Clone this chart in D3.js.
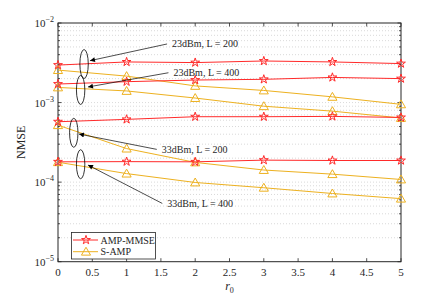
<!DOCTYPE html>
<html><head><meta charset="utf-8">
<script src="https://cdn.jsdelivr.net/npm/d3@7"></script>
<style>body{margin:0;background:#fff}</style>
</head><body><svg id="c" width="443" height="302" font-family="'Liberation Serif', 'Times New Roman', 'DejaVu Serif', serif"></svg>
<script>
const xValues = [0, 1, 2, 3, 4, 5];
const xTicks = [0, 0.5, 1, 1.5, 2, 2.5, 3, 3.5, 4, 4.5, 5];
const yTicks = [-5, -4, -3, -2];
const ampMmse23L200 = [2.96e-3, 3.24e-3, 3.18e-3, 3.33e-3, 3.24e-3, 3.09e-3];
const ampMmse23L400 = [1.71e-3, 1.83e-3, 1.92e-3, 1.96e-3, 2.07e-3, 2.0e-3];
const ampMmse33L200 = [5.74e-4, 6.15e-4, 6.64e-4, 6.64e-4, 6.7e-4, 6.5e-4];
const ampMmse33L400 = [1.80e-4, 1.81e-4, 1.80e-4, 1.89e-4, 1.87e-4, 1.87e-4];
const sAmp23L200 = [2.56e-3, 2.15e-3, 1.62e-3, 1.42e-3, 1.18e-3, 9.5e-4];
const sAmp23L400 = [1.55e-3, 1.40e-3, 1.14e-3, 9.0e-4, 7.8e-4, 6.4e-4];
const sAmp33L200 = [5.2e-4, 2.64e-4, 1.77e-4, 1.42e-4, 1.26e-4, 1.08e-4];
const sAmp33L400 = [1.78e-4, 1.28e-4, 9.9e-5, 8.5e-5, 7.2e-5, 6.2e-5];
const legendLabels = ["AMP-MMSE", "S-AMP"];
const annotations = [
  {label: "23dBm, L = 200", ex: 0.38, ey: 3.05e-3, sx: 1.59, sy: 5.45e-3, tx: 0.466, ty: 3.36e-3},
  {label: "23dBm, L = 400", ex: 0.33, ey: 1.44e-3, sx: 1.61, sy: 2.37e-3, tx: 0.437, ty: 1.57e-3},
  {label: "33dBm, L = 200", ex: 0.23, ey: 4.17e-4, sx: 1.44, sy: 2.58e-4, tx: 0.306, ty: 4.02e-4},
  {label: "33dBm, L = 400", ex: 0.33, ey: 1.68e-4, sx: 1.52, sy: 5.4e-5, tx: 0.437, ty: 1.64e-4}
];

const RED = "#ff2a2a", ORANGE = "#edb120";
const FONT = "'Liberation Serif', 'Times New Roman', 'DejaVu Serif', serif";
const svg = d3.select("#c");
const L = 58, R = 401, T = 23, B = 261.7;
const x = d3.scaleLinear().domain([0, 5]).range([L, R]);
const y = d3.scaleLog().domain([1e-5, 1e-2]).range([B, T]);

// grid
const grid = [];
for (let e = -5; e < -2; e++) for (let m = 1; m <= 9; m++) grid.push(m * Math.pow(10, e));
grid.push(1e-2);
svg.append("g").selectAll("line").data(grid.filter(v => v > 1e-5 && v < 1e-2)).join("line")
  .attr("x1", L).attr("x2", R).attr("y1", d => y(d)).attr("y2", d => y(d))
  .attr("stroke", "#c8c8c8").attr("stroke-width", 0.7).attr("stroke-dasharray", "1,2");

// axes box
svg.append("rect").attr("x", L).attr("y", T).attr("width", R - L).attr("height", B - T)
  .attr("fill", "none").attr("stroke", "#262626").attr("stroke-width", 1);

const ax = svg.append("g").attr("stroke", "#262626").attr("stroke-width", 0.8);
xTicks.forEach(t => {
  ax.append("line").attr("x1", x(t)).attr("x2", x(t)).attr("y1", B).attr("y2", B - 3.5);
  ax.append("line").attr("x1", x(t)).attr("x2", x(t)).attr("y1", T).attr("y2", T + 3.5);
});
grid.forEach(v => {
  const major = Math.abs(Math.log10(v) - Math.round(Math.log10(v))) < 1e-9;
  const len = major ? 3.5 : 2;
  ax.append("line").attr("x1", L).attr("x2", L + len).attr("y1", y(v)).attr("y2", y(v));
  ax.append("line").attr("x1", R).attr("x2", R - len).attr("y1", y(v)).attr("y2", y(v));
});
svg.append("g").selectAll("text").data(xTicks).join("text")
  .attr("x", d => x(d)).attr("y", B + 14).attr("text-anchor", "middle").attr("font-family", FONT)
  .attr("font-size", 11).attr("fill", "#262626").text(d => d3.format("")(d));
const yl = svg.append("g").selectAll("text").data(yTicks).join("text")
  .attr("x", L - 4).attr("y", d => y(Math.pow(10, d)) + 4).attr("text-anchor", "end").attr("font-family", FONT)
  .attr("font-size", 11).attr("fill", "#262626");
yl.append("tspan").text("10");
yl.append("tspan").attr("dy", -5).attr("font-size", 8).text(d => "\u2212" + (-d));

svg.append("text").attr("transform", `translate(25,${(T + B) / 2}) rotate(-90)`).attr("font-family", FONT)
  .attr("text-anchor", "middle").attr("font-size", 12).attr("fill", "#262626").text("NMSE");
const xl = svg.append("text").attr("x", (L + R) / 2).attr("y", 290).attr("text-anchor", "middle").attr("font-family", FONT)
  .attr("font-size", 12).attr("fill", "#262626");
xl.append("tspan").attr("font-style", "italic").text("r");
xl.append("tspan").attr("dy", 3).attr("font-size", 8).text("0");

// series
const line = d3.line().x((d, i) => x(xValues[i])).y(d => y(d));
const star = d3.symbol().type(d3.symbolStar).size(24);
const tri = d3.symbol().type(d3.symbolTriangle).size(36);
function drawSeries(vals, color, sym) {
  svg.append("path").datum(vals).attr("d", line).attr("fill", "none").attr("stroke", color).attr("stroke-width", 1);
  svg.append("g").selectAll("path").data(vals).join("path")
    .attr("transform", (d, i) => `translate(${x(xValues[i])},${y(d) + (sym === tri ? 0.8 : 0)})`)
    .attr("d", sym).attr("fill", "none").attr("stroke", color).attr("stroke-width", 1);
}
[sAmp23L200, sAmp23L400, sAmp33L200, sAmp33L400].forEach(s => drawSeries(s, ORANGE, tri));
[ampMmse23L200, ampMmse23L400, ampMmse33L200, ampMmse33L400].forEach(s => drawSeries(s, RED, star));

// annotations
svg.append("defs").append("marker").attr("id", "ah").attr("viewBox", "0 0 10 10")
  .attr("refX", 10).attr("refY", 5).attr("markerWidth", 9).attr("markerHeight", 5)
  .attr("orient", "auto").attr("markerUnits", "userSpaceOnUse")
  .append("path").attr("d", "M0,0L10,5L0,10z").attr("fill", "#000");
const an = svg.append("g");
annotations.forEach(a => {
  an.append("ellipse").attr("cx", x(a.ex)).attr("cy", y(a.ey)).attr("rx", 4.2).attr("ry", 14.5)
    .attr("fill", "none").attr("stroke", "#000").attr("stroke-width", 0.8);
  an.append("line").attr("x1", x(a.sx)).attr("y1", y(a.sy)).attr("x2", x(a.tx)).attr("y2", y(a.ty))
    .attr("stroke", "#000").attr("stroke-width", 0.7).attr("marker-end", "url(#ah)");
  an.append("text").attr("x", x(a.sx) + 5).attr("y", y(a.sy) + 3.5).attr("font-family", FONT)
    .attr("font-size", 10).attr("fill", "#262626").text(a.label);
});

// legend
const lg = svg.append("g");
lg.append("rect").attr("x", 71.5).attr("y", 232.5).attr("width", 84).attr("height", 26.5)
  .attr("fill", "#fff").attr("stroke", "#262626").attr("stroke-width", 0.8);
[[RED, star], [ORANGE, tri]].forEach(([c, s], i) => {
  const yy = 240 + i * 11.7;
  lg.append("line").attr("x1", 73).attr("x2", 98).attr("y1", yy).attr("y2", yy).attr("stroke", c);
  lg.append("path").attr("transform", `translate(86,${yy + (s === tri ? 0.8 : 0)})`).attr("d", s)
    .attr("fill", "none").attr("stroke", c);
  lg.append("text").attr("x", 100.5).attr("y", yy + 3.5).attr("font-family", FONT).attr("font-size", 10).attr("fill", "#262626").text(legendLabels[i]);
});
</script></body></html>
